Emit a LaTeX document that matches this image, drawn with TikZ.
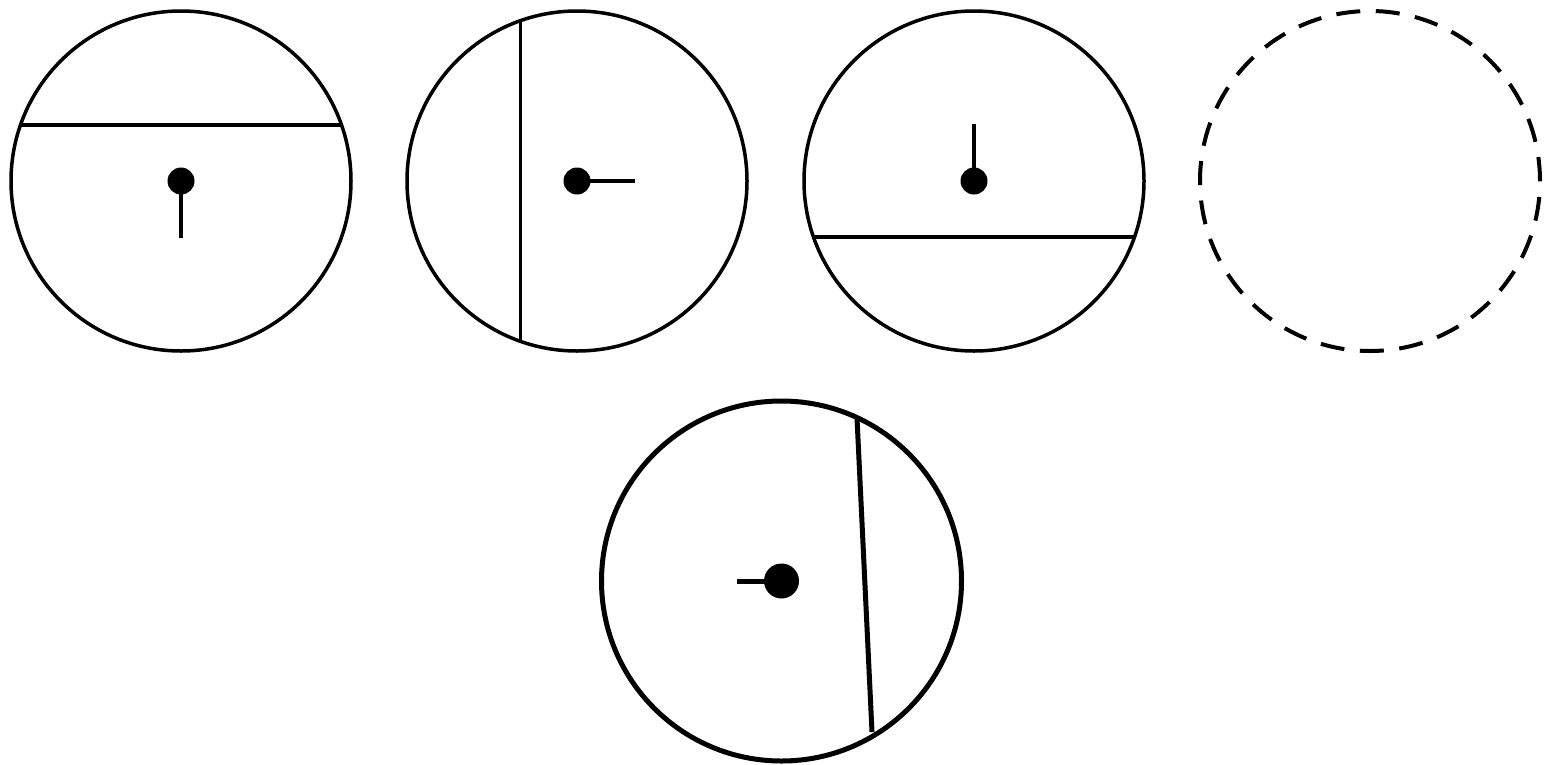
\documentclass[tikz,border=0pt]{standalone}
\begin{document}
\begin{tikzpicture}[x=1pt,y=-1pt,
  ring/.style={circle,draw,line width=3.5pt,inner sep=0pt,outer sep=0pt,minimum size=340pt},
  bigring/.style={circle,draw,line width=5pt,inner sep=0pt,outer sep=0pt,minimum size=360pt},
  dashring/.style={circle,draw,line width=4pt,inner sep=0pt,outer sep=0pt,minimum size=340pt,dash pattern=on 24pt off 15.55pt},
  chord/.style={line width=3.5pt},
  bigchord/.style={line width=5pt},
  stem/.style={line width=3.5pt},
  bigstem/.style={line width=5pt},
  pivot/.style={circle,fill=black,inner sep=0pt,outer sep=0pt,minimum size=27pt},
  bigpivot/.style={circle,fill=black,inner sep=0pt,outer sep=0pt,minimum size=35pt}]
\useasboundingbox (0,0) rectangle (1558,764);
% circle 1
\node[ring] (c1) at (181,181) {};
\coordinate (a1) at (20.5,125);
\coordinate (b1) at (341.5,125);
\draw[chord] (a1) -- (b1);
\coordinate (s1) at (181,238);
\draw[stem] (181,181) -- (s1);
\node[pivot] (p1) at (181,181) {};
% circle 2
\node[ring] (c2) at (577,181) {};
\coordinate (a2) at (520.7,20.6);
\coordinate (b2) at (520.7,341.4);
\draw[chord] (a2) -- (b2);
\coordinate (s2) at (635,181);
\draw[stem] (577,181) -- (s2);
\node[pivot] (p2) at (577,181) {};
% circle 3
\node[ring] (c3) at (974,181) {};
\coordinate (a3) at (813.5,237);
\coordinate (b3) at (1134.5,237);
\draw[chord] (a3) -- (b3);
\coordinate (s3) at (974,124);
\draw[stem] (974,181) -- (s3);
\node[pivot] (p3) at (974,181) {};
% circle 4 (dashed)
\node[dashring] (c4) at (1370,181) {};
% circle 5
\node[bigring] (c5) at (781.5,581) {};
\coordinate (a5) at (857,418);
\coordinate (b5) at (872,732);
\draw[bigchord] (a5) -- (b5);
\coordinate (s5) at (737,581);
\draw[bigstem] (781.5,581) -- (s5);
\node[bigpivot] (p5) at (781.5,581) {};
\end{tikzpicture}
\end{document}
